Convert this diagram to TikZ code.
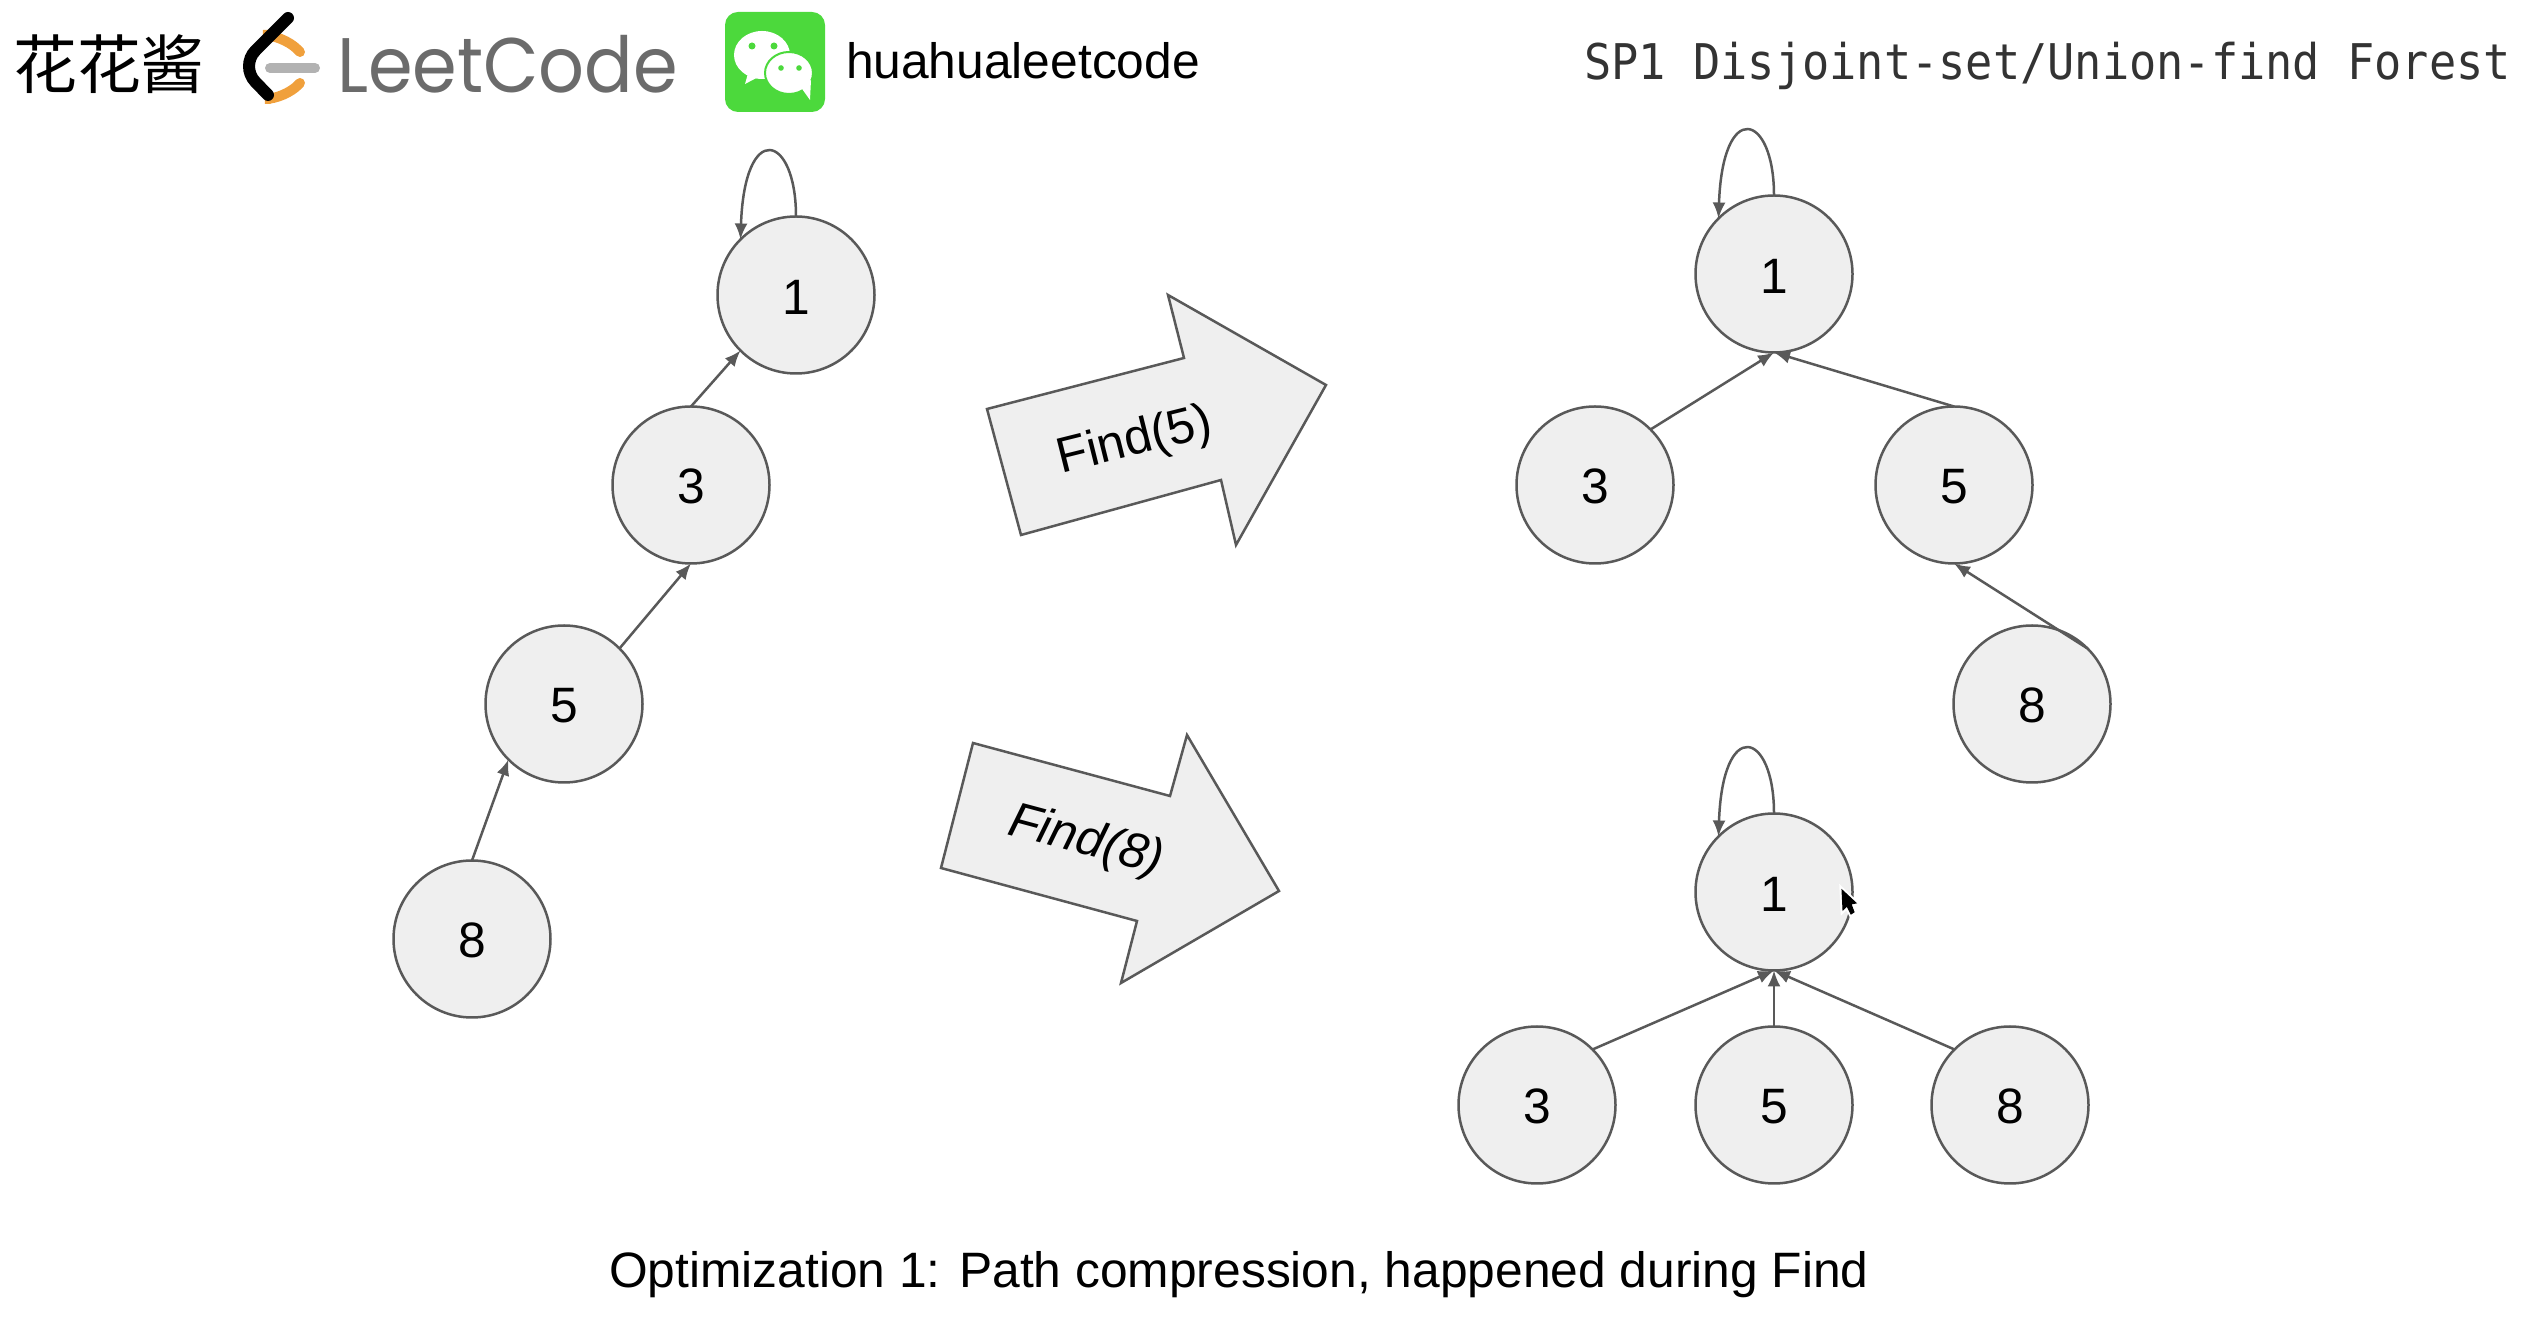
\documentclass[tikz,border=0pt]{standalone}
\usepackage{fontspec}
\usepackage{xcolor}
\usetikzlibrary{arrows.meta}
\setmainfont{Liberation Sans}
\newfontfamily\cjk{Noto Sans CJK SC}
\newfontfamily\logofont[FakeStretch=0.93]{Poppins}
\newfontfamily\titlefont[FakeStretch=0.92]{DejaVu Sans Mono}
\definecolor{edgegray}{HTML}{595959}
\definecolor{fillgray}{HTML}{EFEFEF}
\definecolor{lcorange}{HTML}{F0A03C}
\definecolor{wxgreen}{HTML}{4CD93C}

\begin{document}
\begin{tikzpicture}[
					x=0.1mm,y=-0.1mm,
					font=\fontsize{14.15}{16}\selectfont,
					cnode/.style={circle,draw=edgegray,fill=fillgray,line width=0.25mm,inner sep=0pt,outer sep=0pt,minimum size=15.7mm,text height=10.9pt},
					pedge/.style={draw=edgegray,line width=0.25mm,-{Latex[length=1.6mm,width=1.3mm]}},
					farrow/.style={draw=edgegray,fill=fillgray,line width=0.25mm,line join=miter},
					txt/.style={inner sep=0pt,outer sep=0pt}
					]
					\useasboundingbox (0,0) rectangle (2526,1342);
					% header
					\node[txt,font=\cjk\fontsize{18.2}{20}\selectfont] (hname) at (109,64) {花花酱};
					\draw[lcorange,line width=1mm,line cap=round,rounded corners=2mm] (272,35) -- (283,35) -- (300,52);
					\draw[lcorange,line width=1mm,line cap=round,rounded corners=2mm] (300,83) -- (285,99) -- (270,99);
					\draw[black!30,line width=1mm,line cap=round] (270,68) -- (315,68);
					\draw[black,line width=1.2mm,line cap=round,rounded corners=2.2mm] (288,18) -- (240,66) -- (268,95);
					\node[txt,anchor=west,text=black!58,font=\logofont\fontsize{22}{25}\selectfont] (hleet) at (337,64) {LeetCode};
					\fill[wxgreen,rounded corners=1.3mm] (725,12) rectangle (825,112);
					\fill[white] (762,55) ellipse [x radius=28,y radius=24];
					\fill[white] (749,70) -- (745,84) -- (764,74) -- cycle;
					\fill[white,draw=wxgreen,line width=0.2mm] (789,73) ellipse [x radius=24,y radius=21];
					\fill[white] (800,86) -- (810,100) -- (811,80) -- cycle;
					\foreach \x/\y/\r in {752/46/3.5,774/46/3.5,781/68/2.8,799/68/2.8}{
						\fill[wxgreen] (\x,\y) circle [radius=\r];
					}
					\node[txt,anchor=west] (hwx) at (846,61) {huahualeetcode};
					\node[txt,anchor=east,text=black!80,font=\titlefont\fontsize{14}{16}\selectfont] (htitle) at (2511,66) {SP1 Disjoint-set/Union-find Forest};
					% left chain
					\foreach \i/\x/\y in {1/796/295,3/691/485,5/564/704,8/472/939}{
						\node[cnode] (ln\i) at (\x,\y) {\i};
					}
					\draw[pedge] (ln1.90) .. controls +(0,-83) and +(4,-120) .. (ln1.135);
					\draw[pedge] (ln3.90) -- (ln1.225);
					\draw[pedge] (ln5.45) -- (ln3.270);
					\draw[pedge] (ln8.90) -- (ln5.225);
					% find arrows
					\draw[farrow] (987,409) -- (1184,358) -- (1168,295) -- (1326,385) -- (1236,545) -- (1221,480) -- (1021,535) -- cycle;
					\node[txt,rotate=14] (fa) at (1135,442) {Find(5)};
					\draw[farrow] (973,743) -- (1170,796) -- (1187,735) -- (1279,891) -- (1121,983) -- (1137,921) -- (941,868) -- cycle;
					\node[txt,rotate=-15] (fb) at (1086,842) {\itshape Find(8)};
					% after find 5
					\foreach \i/\x/\y in {1/1774/274,3/1595/485,5/1954/485,8/2032/704}{
						\node[cnode] (tn\i) at (\x,\y) {\i};
					}
					\draw[pedge] (tn1.90) .. controls +(0,-83) and +(4,-120) .. (tn1.135);
					\draw[pedge] (tn3.45) -- (tn1.270);
					\draw[pedge] (tn5.90) -- (tn1.270);
					\draw[pedge] (tn8.45) -- (tn5.270);
					% after find 8
					\foreach \i/\x/\y in {1/1774/892,3/1537/1105,5/1774/1105,8/2010/1105}{
						\node[cnode] (bn\i) at (\x,\y) {\i};
					}
					\draw[pedge] (bn1.90) .. controls +(0,-83) and +(4,-120) .. (bn1.135);
					\draw[pedge] (bn3.45) -- (bn1.270);
					\draw[pedge] (bn5.90) -- (bn1.270);
					\draw[pedge] (bn8.135) -- (bn1.270);
					% cursor
					\draw[black,fill=black,line width=0.1mm,preaction={draw=white,line width=0.5mm}] (1842,890) -- (1843,910) -- (1847,906) -- (1851,914) -- (1854,912) -- (1851,904) -- (1856,903) -- cycle;
					\node[txt] (cap) at (1239,1275) {Optimization 1: Path compression, happened during Find};
				\end{tikzpicture}
\end{document}
